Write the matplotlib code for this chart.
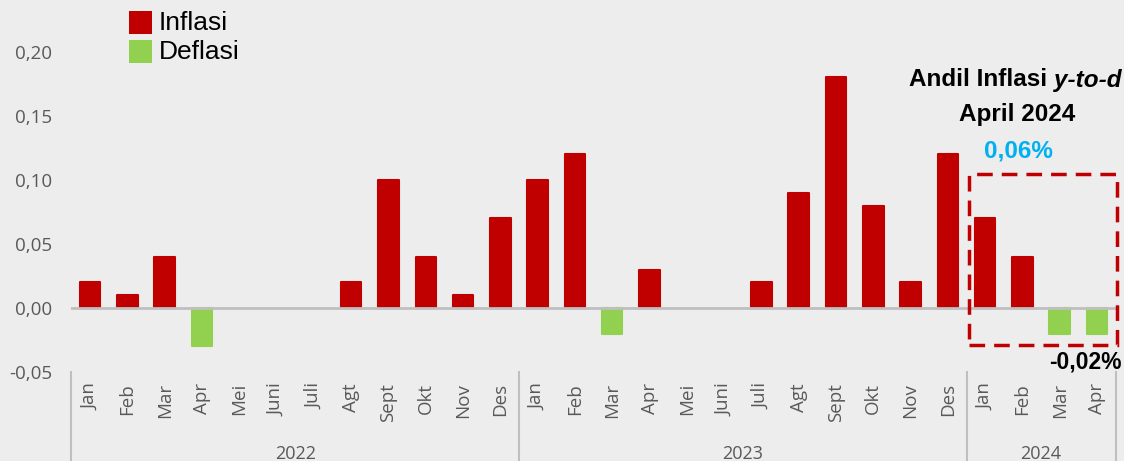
import numpy as np
import matplotlib
matplotlib.use('Agg')
import matplotlib.pyplot as plt
import matplotlib.transforms as mtransforms
from matplotlib.patches import Rectangle
from matplotlib.lines import Line2D

# data
months = ['Jan', 'Feb', 'Mar', 'Apr', 'Mei', 'Juni', 'Juli', 'Agt', 'Sept', 'Okt', 'Nov', 'Des',
          'Jan', 'Feb', 'Mar', 'Apr', 'Mei', 'Juni', 'Juli', 'Agt', 'Sept', 'Okt', 'Nov', 'Des',
          'Jan', 'Feb', 'Mar', 'Apr']
years = ['2022', '2023', '2024']
months_per_year = [12, 12, 4]
andil = [0.02, 0.01, 0.04, -0.03, 0.0, 0.0, 0.0, 0.02, 0.10, 0.04, 0.01, 0.07,
         0.10, 0.12, -0.02, 0.03, 0.0, 0.0, 0.02, 0.09, 0.18, 0.08, 0.02, 0.12,
         0.07, 0.04, -0.02, -0.02]
ytd_total = '0,06%'
ytd_min = '-0,02%'

RED = '#C00000'
GREEN = '#92D050'
GRAY = '#595959'
LINE = '#BFBFBF'
BG = '#EDEDED'
NARROW = ['Liberation Sans Narrow', 'Liberation Sans', 'DejaVu Sans']
TICKF = ['Open Sans', 'DejaVu Sans']

fig = plt.figure(figsize=(11.24, 4.61), dpi=100, facecolor=BG)
ax = fig.add_axes([0.0636, 0.193, 0.929, 0.750])
ax.set_facecolor(BG)

x = np.arange(len(andil))
vals = np.array(andil)
colors = np.array([RED if v > 0 else GREEN for v in vals])
mask = vals != 0
ax.bar(x[mask], vals[mask], width=0.55, color=colors[mask],
       edgecolor=colors[mask], linewidth=1.5, joinstyle='round', zorder=2)

ax.axhline(0, color=LINE, linewidth=2, zorder=3)

ax.set_xlim(-0.5, len(andil) - 0.5)
ax.set_ylim(-0.05, 0.22)
ax.set_yticks([-0.05, 0.0, 0.05, 0.10, 0.15, 0.20])
ax.set_yticklabels([f'{t:.2f}'.replace('.', ',') for t in ax.get_yticks()],
                   fontfamily=TICKF, fontsize=13.5, color=GRAY)
ax.set_xticks(x)
ax.set_xticklabels(months, rotation=90, fontfamily=TICKF, fontsize=13.5, color=GRAY, va='top')
ax.tick_params(axis='y', length=0, pad=14)
ax.tick_params(axis='x', length=0, pad=8)
for s in ax.spines.values():
    s.set_visible(False)

# year groups and separators below the axis
trans = mtransforms.blended_transform_factory(ax.transData, fig.transFigure)
start = 0
bounds = [-0.5]
for yr, n in zip(years, months_per_year):
    ax.text(start + (n - 1) / 2, 1 - 445 / 461, yr, transform=trans, ha='center', va='top',
            fontfamily=TICKF, fontsize=13, color=GRAY, clip_on=False)
    start += n
    bounds.append(start - 0.5)
for b in bounds:
    ax.add_line(Line2D([b, b], [0.193, 0], transform=trans, color=LINE, linewidth=1.5, clip_on=False))

# legend
for i, (lab, c) in enumerate([('Inflasi', RED), ('Deflasi', GREEN)]):
    ytop = 11 + i * 29
    fig.patches.append(Rectangle((129 / 1124, 1 - (ytop + 23) / 461), 23 / 1124, 23 / 461,
                                 transform=fig.transFigure, facecolor=c, edgecolor='none'))
    fig.text(159 / 1124, 1 - (ytop + 12) / 461, lab, ha='left', va='center',
             fontfamily=NARROW, fontsize=19, color='black')

# y-to-d annotation
ax.add_patch(Rectangle((23.57, -0.029), 3.96, 0.134, fill=False, edgecolor=RED,
                       linewidth=2.5, linestyle=(0, (4.5, 2.6)), clip_on=False, zorder=4))
t1 = fig.text(1122 / 1124, 1 - 80 / 461, 'y-to-d', ha='right', va='center',
              fontfamily=NARROW, fontsize=17.5, fontweight='bold', fontstyle='italic', color='black')
fig.texts.append(plt.Annotation('Andil Inflasi', xy=(0, 0.5), xycoords=t1, xytext=(-5, 0),
                                textcoords='offset points', ha='right', va='center',
                                fontfamily=NARROW, fontsize=17.5, fontweight='bold', color='black'))
fig.texts[-1].set_figure(fig)
fig.text(1017 / 1124, 1 - 115 / 461, 'April 2024', ha='center', va='center',
         fontfamily=NARROW, fontsize=17.5, fontweight='bold', color='black')
fig.text(1018 / 1124, 1 - 151 / 461, ytd_total, ha='center', va='center',
         fontfamily=NARROW, fontsize=17.5, fontweight='bold', color='#00B0F0')
fig.text(1122 / 1124, 1 - 362 / 461, ytd_min, ha='right', va='center',
         fontfamily=NARROW, fontsize=16.5, fontweight='bold', color='black')

fig.savefig('out.png', dpi=100, facecolor=BG)
